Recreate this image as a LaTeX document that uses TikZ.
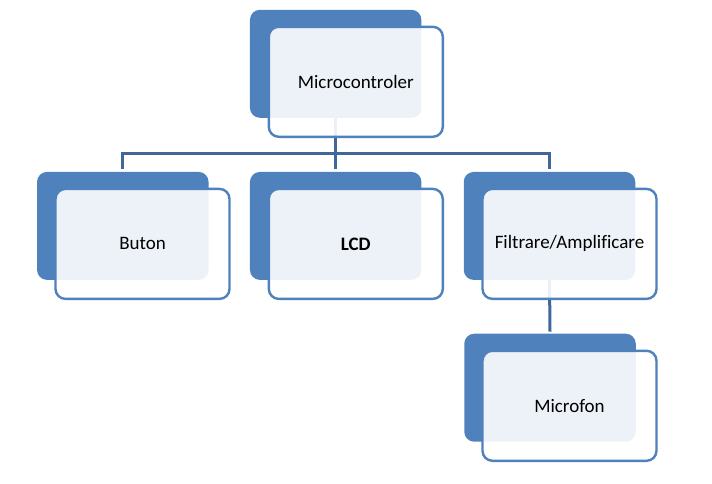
\documentclass[tikz,border=0pt]{standalone}
\usepackage{fontspec}
\setmainfont[Ligatures=NoCommon]{Carlito}
\usetikzlibrary{calc}
\definecolor{sablue}{HTML}{4F81BD}
\definecolor{connblue}{HTML}{41669A}
\begin{document}
\begin{tikzpicture}[x=1pt,y=-1pt,
 back/.style={draw=none, fill=sablue, rounded corners=10pt, minimum width=171.5pt, minimum height=108pt, inner sep=0pt, outer sep=0pt},
 front/.style={draw=sablue, line width=2.4pt, fill=white, fill opacity=0.9, text opacity=1, rounded corners=10pt, minimum width=174pt, minimum height=110pt, inner sep=0pt, outer sep=0pt, font=\fontsize{19}{23}\selectfont},
 conn/.style={draw=connblue, line width=3pt}]
\useasboundingbox (0,0) rectangle (712,483);
% back blue rectangles
\node[back] (mcb) at (335.7,63.8) {};
\node[back] (bub) at (122.8,225.9) {};
\node[back] (lcb) at (335.7,225.9) {};
\node[back] (fib) at (549.5,225.9) {};
\node[back] (mib) at (550,387.7) {};
% connectors
\coordinate (busM) at (335.7,153);
\draw[conn] (mcb.south) -- (busM);
\draw[conn] ($(bub.north)+(0,-3)$) |- (busM) -| ($(fib.north)+(0,-3)$);
\draw[conn] (busM) -- ($(lcb.north)+(0,-3)$);
\draw[conn] (fib.south) -- ($(mib.north)+(0,-2)$);
% front rectangles
\node[front] (mcf) at (355.8,81.8) {Microcontroler};
\node[front] (buf) at (142.5,243.9) {Buton};
\node[front] (lcf) at (355.8,243.9) {\textbf{LCD}};
\node[front] (fif) at (569.5,243.9) {Filtrare/Amplificare};
\node[front] (mif) at (569.5,405.8) {Microfon};
\end{tikzpicture}
\end{document}
